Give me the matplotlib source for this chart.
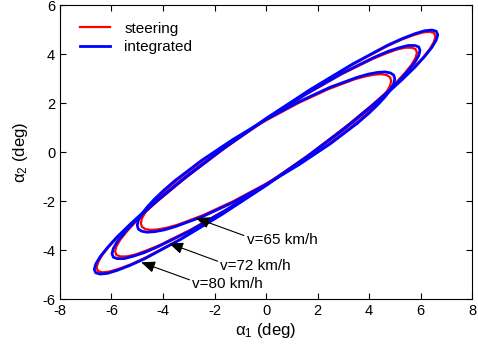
import numpy as np
import matplotlib
matplotlib.use("Agg")
import matplotlib.pyplot as plt

plt.rcParams['font.family'] = ['Liberation Sans', 'DejaVu Sans']
plt.rcParams['mathtext.default'] = 'regular'
plt.rcParams['axes.unicode_minus'] = False

# limit cycles in the (alpha1, alpha2) plane, one loop per forward speed (km/h)
speeds = [65, 72, 80]

steer_a1 = {
    65: [3.44, 3.86, 4.21, 4.49, 4.69, 4.82, 4.86, 4.82, 4.69, 4.49, 4.21, 3.86,
         3.44, 2.43, 1.26, 0.00, -1.26, -2.43,
         -3.44, -3.86, -4.21, -4.49, -4.69, -4.82, -4.86, -4.82, -4.69, -4.49, -4.21, -3.86,
         -3.44, -2.43, -1.26, 0.00, 1.26, 2.43],
    72: [4.14, 4.65, 5.07, 5.41, 5.66, 5.81, 5.86, 5.81, 5.66, 5.41, 5.07, 4.65,
         4.14, 2.93, 1.52, 0.00, -1.52, -2.93,
         -4.14, -4.65, -5.07, -5.41, -5.66, -5.81, -5.86, -5.81, -5.66, -5.41, -5.07, -4.65,
         -4.14, -2.93, -1.52, 0.00, 1.52, 2.93],
    80: [4.65, 5.22, 5.70, 6.08, 6.36, 6.52, 6.58, 6.52, 6.36, 6.08, 5.70, 5.22,
         4.65, 3.29, 1.70, 0.00, -1.70, -3.29,
         -4.65, -5.22, -5.70, -6.08, -6.36, -6.52, -6.58, -6.52, -6.36, -6.08, -5.70, -5.22,
         -4.65, -3.29, -1.70, 0.00, 1.70, 3.29],
}
steer_a2 = {
    65: [1.14, 1.52, 1.87, 2.19, 2.47, 2.71, 2.90, 3.05, 3.14, 3.18, 3.16, 3.09,
         2.97, 2.57, 2.00, 1.29, 0.50, -0.33,
         -1.14, -1.52, -1.87, -2.19, -2.47, -2.71, -2.90, -3.05, -3.14, -3.18, -3.16, -3.09,
         -2.97, -2.57, -2.00, -1.29, -0.50, 0.33],
    72: [1.94, 2.42, 2.86, 3.25, 3.58, 3.85, 4.06, 4.20, 4.26, 4.26, 4.18, 4.02,
         3.80, 3.17, 2.33, 1.32, 0.22, -0.89,
         -1.94, -2.42, -2.86, -3.25, -3.58, -3.85, -4.06, -4.20, -4.26, -4.26, -4.18, -4.02,
         -3.80, -3.17, -2.33, -1.32, -0.22, 0.89],
    80: [2.38, 2.92, 3.41, 3.84, 4.21, 4.50, 4.72, 4.86, 4.91, 4.88, 4.76, 4.57,
         4.29, 3.53, 2.53, 1.35, 0.09, -1.19,
         -2.38, -2.92, -3.41, -3.84, -4.21, -4.50, -4.72, -4.86, -4.91, -4.88, -4.76, -4.57,
         -4.29, -3.53, -2.53, -1.35, -0.09, 1.19],
}

integ_a1 = {
    65: [3.54, 3.97, 4.33, 4.62, 4.83, 4.96, 5.00, 4.96, 4.83, 4.62, 4.33, 3.97,
         3.54, 2.50, 1.29, 0.00, -1.29, -2.50,
         -3.54, -3.97, -4.33, -4.62, -4.83, -4.96, -5.00, -4.96, -4.83, -4.62, -4.33, -3.97,
         -3.54, -2.50, -1.29, 0.00, 1.29, 2.50],
    72: [4.23, 4.74, 5.18, 5.52, 5.78, 5.93, 5.98, 5.93, 5.78, 5.52, 5.18, 4.74,
         4.23, 2.99, 1.55, 0.00, -1.55, -2.99,
         -4.23, -4.74, -5.18, -5.52, -5.78, -5.93, -5.98, -5.93, -5.78, -5.52, -5.18, -4.74,
         -4.23, -2.99, -1.55, 0.00, 1.55, 2.99],
    80: [4.72, 5.29, 5.78, 6.16, 6.44, 6.61, 6.67, 6.61, 6.44, 6.16, 5.78, 5.29,
         4.72, 3.34, 1.73, 0.00, -1.73, -3.34,
         -4.72, -5.29, -5.78, -6.16, -6.44, -6.61, -6.67, -6.61, -6.44, -6.16, -5.78, -5.29,
         -4.72, -3.34, -1.73, 0.00, 1.73, 3.34],
}
integ_a2 = {
    65: [1.17, 1.56, 1.92, 2.25, 2.54, 2.79, 2.99, 3.14, 3.23, 3.27, 3.25, 3.18,
         3.05, 2.65, 2.06, 1.33, 0.51, -0.34,
         -1.17, -1.56, -1.92, -2.25, -2.54, -2.79, -2.99, -3.14, -3.23, -3.27, -3.25, -3.18,
         -3.05, -2.65, -2.06, -1.33, -0.51, 0.34],
    72: [1.98, 2.47, 2.92, 3.32, 3.66, 3.94, 4.15, 4.29, 4.35, 4.35, 4.26, 4.11,
         3.88, 3.24, 2.37, 1.35, 0.23, -0.91,
         -1.98, -2.47, -2.92, -3.32, -3.66, -3.94, -4.15, -4.29, -4.35, -4.35, -4.26, -4.11,
         -3.88, -3.24, -2.37, -1.35, -0.23, 0.91],
    80: [2.41, 2.96, 3.46, 3.90, 4.27, 4.57, 4.79, 4.93, 4.98, 4.95, 4.83, 4.63,
         4.36, 3.58, 2.56, 1.37, 0.09, -1.20,
         -2.41, -2.96, -3.46, -3.90, -4.27, -4.57, -4.79, -4.93, -4.98, -4.95, -4.83, -4.63,
         -4.36, -3.58, -2.56, -1.37, -0.09, 1.20],
}

# arrow tip on the loop and label anchor for each speed
label_tip = {65: (-2.73, -2.69), 72: (-3.76, -3.73), 80: (-4.85, -4.50)}
label_pos = {65: (-0.75, -3.59), 72: (-1.77, -4.64), 80: (-2.86, -5.40)}


def closed(v):
    return np.append(v, v[0])


fig = plt.figure(figsize=(4.78, 3.51), dpi=100)
ax = fig.add_axes([0.1255, 0.148, 0.862, 0.8376])

for i, v in enumerate(speeds):
    ax.plot(closed(steer_a1[v]), closed(steer_a2[v]), color='#ff0000', lw=1.6,
            solid_joinstyle='round', label='steering' if i == 0 else None, zorder=2)
    ax.plot(closed(integ_a1[v]), closed(integ_a2[v]), color='#0000ff', lw=2.0,
            solid_joinstyle='round', label='integrated' if i == 0 else None, zorder=3)

for v in speeds:
    ax.annotate('v=%d km/h' % v, xy=label_tip[v], xytext=label_pos[v],
                ha='left', va='center', fontsize=11, zorder=5,
                arrowprops=dict(arrowstyle='-|>,head_length=0.6,head_width=0.25',
                                color='black', lw=0.8, mutation_scale=14,
                                shrinkA=0, shrinkB=0, relpos=(0.0, 0.75)))

ax.set_xlim(-8, 8)
ax.set_ylim(-6, 6)
ax.set_xticks(np.arange(-8, 9, 2))
ax.set_yticks(np.arange(-6, 7, 2))
ax.tick_params(direction='in', top=True, right=True, length=4, labelsize=10.5)
ax.set_xlabel(r'$\alpha_1$ (deg)', fontsize=12, labelpad=2)
ax.set_ylabel(r'$\alpha_2$ (deg)', fontsize=12, labelpad=9)

ax.legend(loc='upper left', bbox_to_anchor=(0.015, 0.99), frameon=False,
          fontsize=11, handlelength=2.0, handletextpad=0.9, labelspacing=0.3)

plt.savefig('out.png', dpi=100)
